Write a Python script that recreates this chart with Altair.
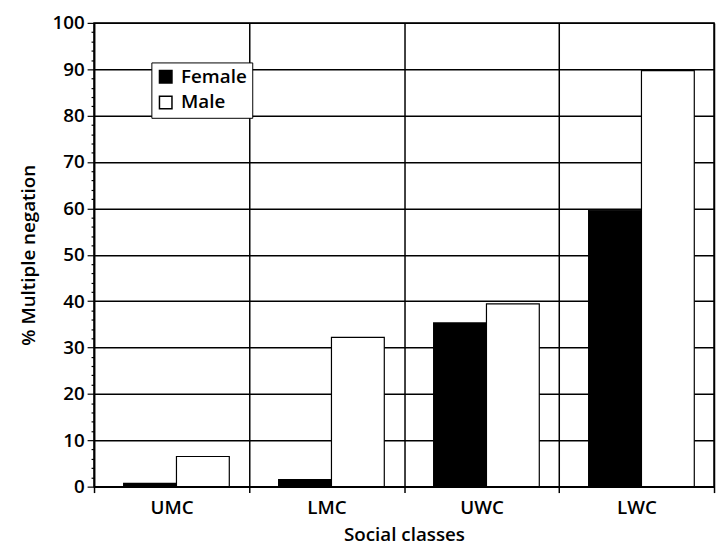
import altair as alt
import pandas as pd

classes = ["UMC", "LMC", "UWC", "LWC"]
sexes = ["Female", "Male"]
female = [0.7, 1.5, 35.3, 59.6]
male = [6.5, 32.2, 39.4, 89.7]
y_ticks = list(range(0, 101, 2))

rows = []
for c, f, m in zip(classes, female, male):
    rows.append({"cls": c, "sex": "Female", "pct": f})
    rows.append({"cls": c, "sex": "Male", "pct": m})
df = pd.DataFrame(rows)

font = "Open Sans"
fs = 19

chart = alt.Chart(df).mark_bar(stroke="black", strokeWidth=1.2).encode(
    x=alt.X(
        "cls:N", sort=classes, title="Social classes",
        scale=alt.Scale(paddingInner=0, paddingOuter=0),
        axis=alt.Axis(
            labelAngle=0, grid=True, tickBand="extent", gridColor="black",
            gridWidth=1.5, gridOpacity=1, ticks=True, tickSize=6,
            tickColor="black", tickWidth=1.5, domainColor="black", domainWidth=1.5,
            labelFont=font, labelFontSize=fs, labelFontWeight=600, labelColor="black",
            labelPadding=6, titleFont=font, titleFontSize=fs, titleFontWeight=600,
            titleColor="black", titlePadding=8,
        ),
    ),
    xOffset=alt.XOffset(
        "sex:N", sort=sexes,
        scale=alt.Scale(paddingInner=0, paddingOuter=0.467, align=0.6),
    ),
    y=alt.Y(
        "pct:Q", title="% Multiple negation",
        scale=alt.Scale(domain=[0, 100], nice=False),
        axis=alt.Axis(
            values=y_ticks,
            labelExpr="datum.value % 10 === 0 ? datum.label : ''",
            tickSize={"condition": {"test": "datum.value % 10 === 0", "value": 7}, "value": 3},
            gridOpacity={"condition": {"test": "datum.value % 10 === 0", "value": 1}, "value": 0},
            grid=True, gridColor="black", gridWidth=1.5,
            tickColor="black", tickWidth=1.2, domainColor="black", domainWidth=1.5,
            labelFont=font, labelFontSize=fs, labelFontWeight=600, labelColor="black",
            labelPadding=3, titleFont=font, titleFontSize=fs, titleFontWeight=600,
            titleColor="black", titlePadding=14,
        ),
    ),
    fill=alt.Fill(
        "sex:N", sort=sexes,
        scale=alt.Scale(domain=sexes, range=["black", "white"]),
        legend=alt.Legend(
            title=None, orient="none", legendX=58, legendY=40,
            symbolType="square", symbolSize=160, symbolStrokeColor="black",
            symbolStrokeWidth=1.5, labelFont=font, labelFontSize=fs,
            labelFontWeight=600, labelColor="black", strokeColor="black",
            fillColor="white", padding=5, rowPadding=6, labelOffset=6,
        ),
    ),
).properties(
    width=627, height=469,
    autosize=alt.AutoSizeParams(type="none"),
    padding={"left": 87, "top": 12, "right": 2, "bottom": 59},
).configure_view(stroke="black", strokeWidth=1.5)

chart.save("out.html", embed_options={"renderer": "svg", "actions": False})
